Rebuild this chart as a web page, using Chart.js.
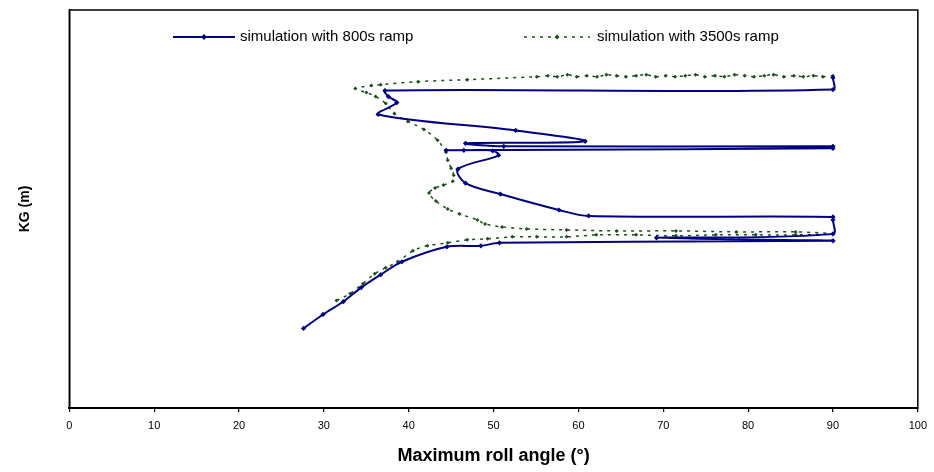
<!DOCTYPE html>
<html>
<head>
<meta charset="utf-8">
<script src="https://cdn.jsdelivr.net/npm/chart.js@4"></script>
<style>
html,body{margin:0;padding:0;background:#fff;}
canvas{display:block;}
</style>
</head>
<body>
<canvas id="c" width="934" height="472"></canvas>
<script>
// ---- data ----
const xTicks = [0, 10, 20, 30, 40, 50, 60, 70, 80, 90, 100];
const seriesNames = ['simulation with 800s ramp', 'simulation with 3500s ramp'];

// 800s ramp: maximum roll angle (°) and KG (m)
const ramp800Roll = [27.6, 29.9, 32.3, 34.4, 36.7, 39.2, 44.5, 48.5, 50.7, 90, 69.2, 90, 90, 90, 61.2, 57.7, 50.8, 46.7, 45.8, 50.6, 49.9, 46.5, 44.4, 90, 90, 51.2, 46.7, 60.8, 52.6, 36.4, 38.6, 37.6, 37.2, 90, 90];
const ramp800KG   = [7.80, 7.94, 8.07, 8.21, 8.34, 8.47, 8.62, 8.63, 8.66, 8.68, 8.71, 8.75, 8.89, 8.92, 8.93, 8.99, 9.15, 9.26, 9.40, 9.54, 9.585, 9.59, 9.59, 9.61, 9.63, 9.63, 9.66, 9.68, 9.79, 9.95, 10.07, 10.13, 10.19, 10.20, 10.32];

// 3500s ramp
const ramp3500Roll = [31.5, 33.1, 34.6, 36.0, 37.3, 38.7, 40.5, 42.2, 44.6, 46.9, 49.3, 52.2, 55.1, 58.6, 62.1, 66.8, 71.5, 76.2, 80.9, 85.6, 90,
  85.6, 78.6, 71.5, 64.5, 58.6, 53.9, 51.0, 49.0, 48.1, 46.0, 44.6, 43.2, 42.4, 43.1, 44.1, 45.2, 45.3, 45.0, 44.6, 44.4, 43.4, 41.8, 39.9, 38.3, 37.3, 36.1, 35.0, 33.7, 35.6, 36.7, 41.1, 46.9, 55.1,
  56.4, 57.5, 58.7, 59.8, 61.0, 62.2, 63.3, 64.5, 65.6, 66.8, 68.0, 69.1, 70.3, 71.4, 72.6, 73.8, 74.9, 76.1, 77.2, 78.4, 79.6, 80.7, 81.9, 83.0, 84.2, 85.4, 86.5, 87.7, 88.8, 90];
const ramp3500KG = [8.08, 8.15, 8.25, 8.35, 8.41, 8.47, 8.58, 8.63, 8.66, 8.69, 8.70, 8.72, 8.72, 8.72, 8.74, 8.74, 8.73, 8.74, 8.74, 8.74, 8.75,
  8.77, 8.77, 8.78, 8.78, 8.79, 8.80, 8.82, 8.85, 8.89, 8.95, 9.00, 9.08, 9.16, 9.21, 9.24, 9.28, 9.34, 9.41, 9.49, 9.57, 9.69, 9.80, 9.88, 9.96, 10.06, 10.13, 10.17, 10.21, 10.24, 10.25, 10.28, 10.30, 10.33,
  10.34, 10.33, 10.35, 10.33, 10.34, 10.33, 10.35, 10.34, 10.33, 10.34, 10.35, 10.33, 10.34, 10.33, 10.34, 10.35, 10.33, 10.34, 10.33, 10.35, 10.34, 10.33, 10.34, 10.35, 10.33, 10.34, 10.33, 10.34, 10.33, 10.34];

const BLUE = '#000080';
const GREEN = '#1c4f1c';
const FONT = 'Arial, "Liberation Sans", Helvetica, sans-serif';

function pts(xs, ys) { return xs.map((x, i) => ({x: x, y: ys[i]})); }

const frame = {
  id: 'frame',
  afterDatasetsDraw(chart) {
    const a = chart.chartArea, ctx = chart.ctx;
    ctx.save();
    ctx.strokeStyle = '#000';
    ctx.lineWidth = 1.5;
    ctx.strokeRect(a.left, a.top, a.right - a.left, a.bottom - a.top);
    ctx.restore();
  }
};

const legendPlugin = {
  id: 'innerLegend',
  afterDraw(chart) {
    const ctx = chart.ctx;
    const y = 37;
    ctx.save();
    ctx.font = '15px ' + FONT;
    ctx.textBaseline = 'middle';
    ctx.fillStyle = '#000';
    // blue sample
    ctx.strokeStyle = BLUE; ctx.lineWidth = 2;
    ctx.beginPath(); ctx.moveTo(173, y); ctx.lineTo(235, y); ctx.stroke();
    ctx.fillStyle = BLUE;
    ctx.beginPath(); ctx.moveTo(204, y - 3); ctx.lineTo(207, y); ctx.lineTo(204, y + 3); ctx.lineTo(201, y); ctx.closePath(); ctx.fill();
    ctx.fillStyle = '#000';
    ctx.fillText(seriesNames[0], 240, y);
    // green sample
    ctx.strokeStyle = GREEN; ctx.lineWidth = 1.5; ctx.setLineDash([3, 5]);
    ctx.beginPath(); ctx.moveTo(524, y); ctx.lineTo(590, y); ctx.stroke();
    ctx.setLineDash([]);
    ctx.fillStyle = GREEN;
    ctx.beginPath(); ctx.moveTo(557, y - 2.5); ctx.lineTo(559.5, y); ctx.lineTo(557, y + 2.5); ctx.lineTo(554.5, y); ctx.closePath(); ctx.fill();
    ctx.fillStyle = '#000';
    ctx.fillText(seriesNames[1], 597, y);
    ctx.restore();
  }
};

new Chart(document.getElementById('c'), {
  type: 'scatter',
  data: {
    datasets: [
      {
        label: seriesNames[0],
        data: pts(ramp800Roll, ramp800KG),
        showLine: true,
        borderColor: BLUE,
        backgroundColor: BLUE,
        borderWidth: 2,
        tension: 0.33,
        pointStyle: 'rectRot',
        pointRadius: 2.6,
        pointBorderWidth: 0,
        order: 1
      },
      {
        label: seriesNames[1],
        data: pts(ramp3500Roll, ramp3500KG),
        showLine: true,
        borderColor: GREEN,
        backgroundColor: GREEN,
        borderWidth: 1.5,
        borderDash: [3, 5],
        tension: 0.33,
        pointStyle: 'rectRot',
        pointRadius: 2,
        pointBorderWidth: 0,
        order: 2
      }
    ]
  },
  options: {
    responsive: false,
    animation: false,
    devicePixelRatio: 1,
    layout: { padding: { left: 0, right: 10.7, top: 10, bottom: 0 } },
    plugins: { legend: { display: false }, tooltip: { enabled: false } },
    scales: {
      x: {
        type: 'linear', min: 0, max: 100,
        afterBuildTicks: (s) => { s.ticks = xTicks.map(v => ({value: v})); },
        ticks: { color: '#000', font: { size: 11, family: FONT }, padding: 7, maxRotation: 0 },
        grid: { drawOnChartArea: false, drawTicks: true, tickLength: 4, color: '#000', lineWidth: 1.2 },
        border: { display: true, color: '#000', width: 2 },
        title: { display: true, text: 'Maximum roll angle (°)', color: '#000', font: { size: 18, weight: 'bold', family: FONT }, padding: { top: 0, bottom: 5 } },
        afterFit: (s) => { s.height = 64; }
      },
      y: {
        type: 'linear', min: 7, max: 11,
        ticks: { display: false },
        grid: { display: false },
        border: { display: true, color: '#000', width: 1.5 },
        title: { display: true, text: 'KG (m)', color: '#000', font: { size: 14, weight: 'bold', family: FONT }, padding: { top: 17, bottom: 0 } },
        afterFit: (s) => { s.width = 69.3; }
      }
    }
  },
  plugins: [frame, legendPlugin]
});
</script>
</body>
</html>
